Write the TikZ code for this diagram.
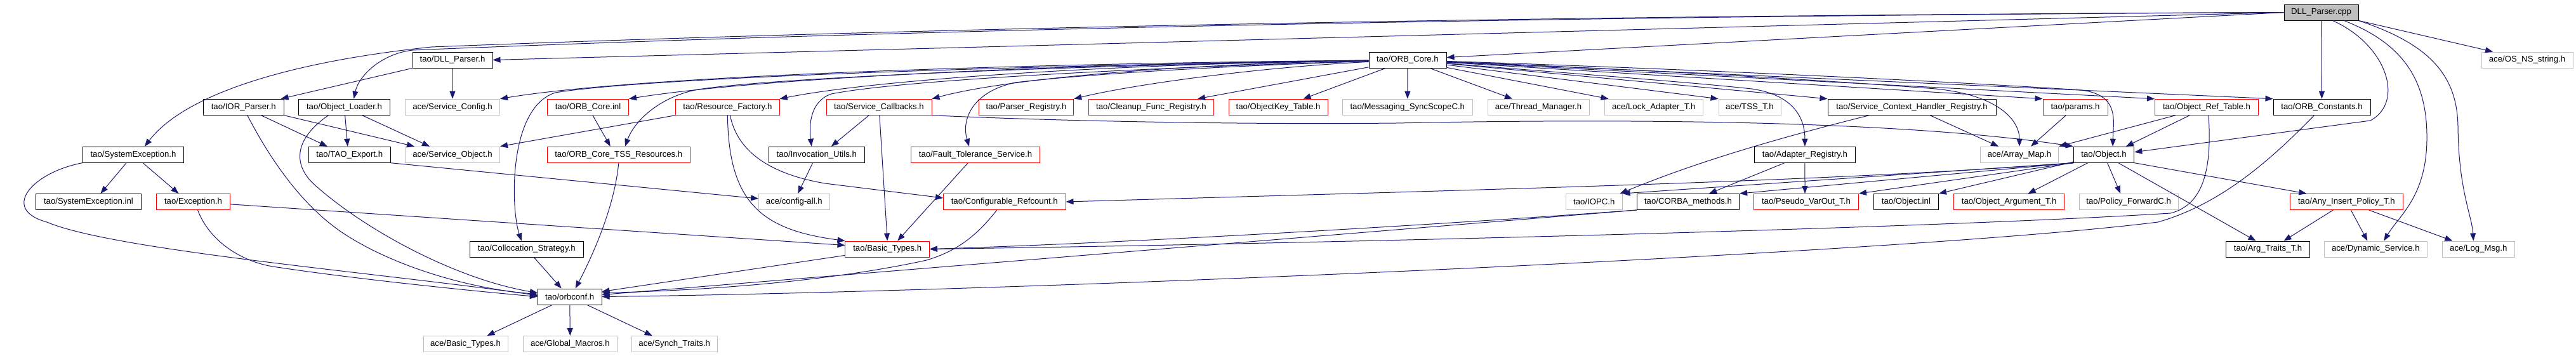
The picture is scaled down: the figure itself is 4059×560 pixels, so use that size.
\documentclass[tikz,border=0pt]{standalone}
\usepackage{fontspec}
\setmainfont{Liberation Sans}
\usetikzlibrary{arrows.meta}
\definecolor{edgeblue}{HTML}{191970}
\definecolor{boxred}{HTML}{FF0000}
\definecolor{boxgray}{HTML}{BFBFBF}

\begin{document}
\begin{tikzpicture}[x=1pt, y=-1pt,
	hdr/.style={draw=black, fill=white, line width=1pt, minimum height=25, inner sep=0pt, font=\fontsize{13.2}{15}\selectfont},
	hdrred/.style={hdr, draw=boxred},
	hdrext/.style={hdr, draw=boxgray},
	hdrroot/.style={hdr, fill=boxgray},
	incl/.style={draw=edgeblue, line width=1pt, -{Triangle[length=12pt,width=9pt]}}]
			%%%%% START %%%%%
			\useasboundingbox (0,0) rectangle (4059,560);
			
			\node[hdrroot, minimum width=117] (cpp) at (3657.5,19.5) {DLL\_Parser.cpp};
			
			\node[hdr, minimum width=126] (dllh) at (713,94.5) {tao/DLL\_Parser.h};
			\node[hdr, minimum width=122] (orbcore) at (2218,94.5) {tao/ORB\_Core.h};
			\node[hdrext, minimum width=144] (osstr) at (3982,94.5) {ace/OS\_NS\_string.h};
			
			\node[hdr, minimum width=126.5] (iorp) at (383.8,168.7) {tao/IOR\_Parser.h};
			\node[hdr, minimum width=144] (objld) at (542.5,168.7) {tao/Object\_Loader.h};
			\node[hdrext, minimum width=149] (svccfg) at (713,168.7) {ace/Service\_Config.h};
			\node[hdrred, minimum width=128] (orbinl) at (926.5,168.7) {tao/ORB\_Core.inl};
			\node[hdrred, minimum width=163.3] (resfac) at (1146.4,168.7) {tao/Resource\_Factory.h};
			\node[hdrred, minimum width=166] (svccb) at (1385,168.7) {tao/Service\_Callbacks.h};
			\node[hdrred, minimum width=149.5] (parsreg) at (1617,168.7) {tao/Parser\_Registry.h};
			\node[hdrred, minimum width=197] (cleanup) at (1814,168.7) {tao/Cleanup\_Func\_Registry.h};
			\node[hdrred, minimum width=156] (objkey) at (2014,168.7) {tao/ObjectKey\_Table.h};
			\node[hdrext, minimum width=205.5] (msgsync) at (2217.8,168.7) {tao/Messaging\_SyncScopeC.h};
			\node[hdrext, minimum width=160] (thrmgr) at (2424,168.7) {ace/Thread\_Manager.h};
			\node[hdrext, minimum width=155.5] (lockad) at (2605.8,168.7) {ace/Lock\_Adapter\_T.h};
			\node[hdrext, minimum width=98] (tss) at (2757,168.7) {ace/TSS\_T.h};
			\node[hdr, minimum width=265] (schr) at (3012.5,168.7) {tao/Service\_Context\_Handler\_Registry.h};
			\node[hdrred, minimum width=102] (params) at (3270,168.7) {tao/params.h};
			\node[hdrred, minimum width=163] (ortab) at (3477,168.7) {tao/Object\_Ref\_Table.h};
			\node[hdr, minimum width=153] (orbconst) at (3658.5,168.7) {tao/ORB\_Constants.h};
			
			\node[hdr, minimum width=159.5] (sysexc) at (210,243.7) {tao/SystemException.h};
			\node[hdr, minimum width=128.4] (taoexp) at (550.8,243.7) {tao/TAO\_Export.h};
			\node[hdrext, minimum width=149] (svcobj) at (713,243.7) {ace/Service\_Object.h};
			\node[hdrred, minimum width=224.4] (tssres) at (974.8,243.7) {tao/ORB\_Core\_TSS\_Resources.h};
			\node[hdr, minimum width=151.6] (invutil) at (1286.8,243.7) {tao/Invocation\_Utils.h};
			\node[hdrred, minimum width=203] (ftsvc) at (1537,243.7) {tao/Fault\_Tolerance\_Service.h};
			\node[hdr, minimum width=159] (adreg) at (2843.9,243.7) {tao/Adapter\_Registry.h};
			\node[hdrext, minimum width=123] (arrmap) at (3182,243.7) {ace/Array\_Map.h};
			\node[hdr, minimum width=95.5] (object) at (3315,243.7) {tao/Object.h};
			
			\node[hdr, minimum width=166] (sysinl) at (139.5,318) {tao/SystemException.inl};
			\node[hdrred, minimum width=116.3] (except) at (304.5,318) {tao/Exception.h};
			\node[hdrext, minimum width=111.4] (cfgall) at (1251.3,318) {ace/config-all.h};
			\node[hdrred, minimum width=192.4] (cfgref) at (1582.8,318) {tao/Configurable\_Refcount.h};
			\node[hdrext, minimum width=88.5] (iopc) at (2511.8,318) {tao/IOPC.h};
			\node[hdr, minimum width=161.3] (corba) at (2660,318) {tao/CORBA\_methods.h};
			\node[hdrred, minimum width=165] (pseudo) at (2846,318) {tao/Pseudo\_VarOut\_T.h};
			\node[hdr, minimum width=102.2] (objinl) at (3003.4,318) {tao/Object.inl};
			\node[hdrred, minimum width=174.2] (objarg) at (3165.7,318) {tao/Object\_Argument\_T.h};
			\node[hdrext, minimum width=156.4] (polfwd) at (3354.2,318) {tao/Policy\_ForwardC.h};
			\node[hdrred, minimum width=178.6] (anyins) at (3697.3,318) {tao/Any\_Insert\_Policy\_T.h};
			
			\node[hdr, minimum width=179] (colloc) at (829.8,392.5) {tao/Collocation\_Strategy.h};
			\node[hdrred, minimum width=132.5] (basic) at (1398.2,392.5) {tao/Basic\_Types.h};
			\node[hdr, minimum width=132] (argtr) at (3573.5,392.5) {tao/Arg\_Traits\_T.h};
			\node[hdrext, minimum width=161.4] (dynsvc) at (3743.3,392.5) {ace/Dynamic\_Service.h};
			\node[hdrext, minimum width=113.5] (logmsg) at (3905.3,392.5) {ace/Log\_Msg.h};
			
			\node[hdr, minimum width=100.6] (orbconf) at (897.7,467.5) {tao/orbconf.h};
			
			\node[hdrext, minimum width=133] (acebt) at (733.5,542) {ace/Basic\_Types.h};
			\node[hdrext, minimum width=148] (gmac) at (898.4,542) {ace/Global\_Macros.h};
			\node[hdrext, minimum width=134.7] (synch) at (1062.7,542) {ace/Synch\_Traits.h};
			
			% DLL_Parser.cpp
			\draw[incl] (cpp.west) -- (dllh.east);
			\draw[incl] (cpp.west) -- ([yshift=4]orbcore.east);
			\draw[incl] (cpp.west) .. controls (2500,24) and (1500,42) .. (680,74) .. controls (450,98) and (290,150) .. ([xshift=18]sysexc.north);
			\draw[incl] (cpp.west) .. controls (2500,25) and (1500,44) .. (650,79) .. controls (600,85) and (565,120) .. ([xshift=15]objld.north);
			\draw[incl] (cpp.south) -- (orbconst.north);
			\draw[incl] (cpp.south east) -- ([xshift=-54]osstr.north);
			\draw[incl] ([xshift=18]cpp.south) .. controls (3760,70) and (3790,160) .. (3735,190) -- ([yshift=4]object.east);
			\draw[incl] ([xshift=36]cpp.south) .. controls (3790,70) and (3825,130) .. (3824,220) .. controls (3823,310) and (3780,340) .. ([xshift=13]dynsvc.north);
			\draw[incl] (cpp.south east) .. controls (3830,70) and (3872,120) .. (3873,200) .. controls (3874,300) and (3895,340) .. ([xshift=-8]logmsg.north);
			
			\draw[incl] (dllh.south west) -- ([xshift=-5]iorp.north east);
			\draw[incl] (dllh) -- (svccfg);
			
			% ORB_Core.h
			\draw[incl] (orbcore) .. controls (1600,100) and (1000,120) .. (svccfg.north east);
			\draw[incl] (orbcore) .. controls (1700,100) and (1200,122) .. (orbinl.north east);
			\draw[incl] (orbcore) .. controls (1800,100) and (1400,122) .. (resfac.north east);
			\draw[incl] (orbcore) .. controls (1500,105) and (1000,125) .. (875,146) .. controls (800,170) and (805,330) .. ([xshift=-8]colloc.north);
			\draw[incl] (orbcore) .. controls (1600,105) and (1200,125) .. (1100,141) .. controls (1040,152) and (1000,190) .. ([xshift=10]tssres.north);
			\draw[incl] (orbcore) .. controls (1900,100) and (1600,120) .. (svccb.north east);
			\draw[incl] (orbcore) .. controls (1700,110) and (1400,130) .. (1310,148) .. controls (1275,160) and (1275,200) .. ([xshift=-8]invutil.north);
			\draw[incl] (orbcore) .. controls (1900,105) and (1700,118) .. (1600,130) .. controls (1530,145) and (1515,190) .. ([xshift=-10]ftsvc.north);
			\draw[incl] (orbcore) .. controls (2000,105) and (1800,130) .. (parsreg.north east);
			\draw[incl] (orbcore) -- ([xshift=-26]cleanup.north east);
			\draw[incl] (orbcore) -- ([xshift=-39]objkey.north east);
			\draw[incl] (orbcore) -- (msgsync);
			\draw[incl] (orbcore) -- ([xshift=-41]thrmgr.north);
			\draw[incl] (orbcore) -- ([xshift=7]lockad.north west);
			\draw[incl] (orbcore) -- (tss.north west);
			\draw[incl] (orbcore) -- (schr.north west);
			\draw[incl] (orbcore) .. controls (2400,110) and (2650,128) .. (2760,140) .. controls (2830,150) and (2844,190) .. (adreg.north);
			\draw[incl] (orbcore) .. controls (2600,110) and (2900,128) .. (3050,140) .. controls (3150,150) and (3182,190) .. (arrmap.north);
			\draw[incl] (orbcore) -- (params.north west);
			\draw[incl] (orbcore) .. controls (2700,110) and (3100,130) .. (3280,142) .. controls (3340,150) and (3330,190) .. ([xshift=14]object.north);
			\draw[incl] (orbcore) -- (ortab.north west);
			\draw[incl] (orbcore) -- (orbconst.north west);
			
			% left group
			\draw[incl] (iorp) -- ([xshift=-35]taoexp.north);
			\draw[incl] (iorp.south east) -- ([xshift=-60]svcobj.north);
			\draw[incl] ([xshift=6]iorp.south) .. controls (420,240) and (470,320) .. (540,367) .. controls (620,420) and (740,455) .. ([yshift=4]orbconf.west);
			\draw[incl] (objld) -- ([xshift=-3]taoexp.north);
			\draw[incl] (objld) -- ([xshift=-36]svcobj.north);
			\draw[incl] ([xshift=-25]objld.south) .. controls (462,220) and (460,262) .. (500,295) .. controls (580,365) and (720,440) .. ([yshift=6]orbconf.west);
			\draw[incl] (taoexp.south east) -- ([yshift=5]cfgall.west);
			\draw[incl] (sysexc) -- ([xshift=19]sysinl.north);
			\draw[incl] (sysexc) -- ([xshift=-23]except.north);
			\draw[incl] (sysexc.south west) .. controls (50,272) and (0,330) .. (74,350) .. controls (180,395) and (600,430) .. ([yshift=2]orbconf.west);
			\draw[incl] (except) -- ([yshift=6]basic.west);
			\draw[incl] ([xshift=7]except.south) .. controls (330,380) and (380,412) .. (430,420) .. controls (560,440) and (760,460) .. (orbconf.west);
			
			% middle group
			\draw[incl] (resfac.south west) -- (svcobj.north east);
			\draw[incl] (resfac.south) .. controls (1148,320) and (1200,362) .. (basic.north west);
			\draw[incl] ([xshift=4]resfac.south) .. controls (1160,230) and (1200,272) .. (1300,289) -- ([yshift=6]cfgref.west);
			\draw[incl] (orbinl) -- ([xshift=-13]tssres.north);
			\draw[incl] (tssres.south) .. controls (968,330) and (930,410) .. ([xshift=9]orbconf.north);
			\draw[incl] (svccb) -- ([xshift=23]invutil.north);
			\draw[incl] (svccb) -- (basic.north);
			\draw[incl] (svccb.south east) .. controls (1600,188) and (1900,197) .. (2200,194) .. controls (2700,184) and (3050,198) .. (object.north west);
			\draw[incl] (ftsvc) -- ([xshift=16]basic.north);
			\draw[incl] (invutil) -- ([xshift=6]cfgall.north);
			\draw[incl] (colloc) -- ([xshift=-13]orbconf.north);
			\draw[incl] (basic) -- ([yshift=8]orbconf.east);
			\draw[incl] ([xshift=-12]cfgref.south) .. controls (1540,370) and (1510,395) .. (1460,410) .. controls (1300,445) and (1100,458) .. ([yshift=6]orbconf.east);
			
			% right group
			\draw[incl] ([xshift=-12]orbconst.south) .. controls (3580,250) and (3500,322) .. (3400,350) .. controls (3000,400) and (1600,460) .. (orbconf.east);
			\draw[incl] ([xshift=3]ortab.south) .. controls (3485,260) and (3475,322) .. (3420,336) .. controls (3000,362) and (2000,385) .. (basic.east);
			\draw[incl] (corba.south west) .. controls (2300,352) and (1800,382) .. (basic.east);
			\draw[incl] (corba.south west) -- ([yshift=3]orbconf.east);
			\draw[incl] (ortab) -- (arrmap.north east);
			\draw[incl] (ortab) -- ([xshift=35]object.north);
			\draw[incl] (schr) -- ([xshift=-33]arrmap.north);
			\draw[incl] ([xshift=-67]schr.south) .. controls (2760,228) and (2650,265) .. ([xshift=-4]iopc.north east);
			\draw[incl] (params) -- ([xshift=18]arrmap.north);
			\draw[incl] (adreg) -- ([xshift=33]corba.north);
			\draw[incl] (adreg) -- ([xshift=-2]pseudo.north);
			\draw[incl] (object.south west) -- (iopc.north east);
			\draw[incl] (object.south west) .. controls (2900,285) and (2400,297) .. (cfgref.east);
			\draw[incl] (object.south west) -- (corba.north east);
			\draw[incl] (object.south west) -- (pseudo.north east);
			\draw[incl] (object) -- (objinl.north east);
			\draw[incl] (object) -- ([xshift=30]objarg.north);
			\draw[incl] (object) -- ([xshift=-13]polfwd.north);
			\draw[incl] (object) -- ([xshift=-19]argtr.north);
			\draw[incl] (object.south east) -- ([xshift=-63]anyins.north);
			\draw[incl] (anyins) -- ([xshift=25]argtr.north);
			\draw[incl] (anyins) -- ([xshift=-13]dynsvc.north);
			\draw[incl] (anyins) -- ([xshift=-41]logmsg.north);
			
			% orbconf.h
			\draw[incl] (orbconf) -- ([xshift=34]acebt.north);
			\draw[incl] (orbconf) -- (gmac);
			\draw[incl] (orbconf) -- ([xshift=-35]synch.north);
			%%%%% END %%%%%
\end{tikzpicture}
\end{document}
